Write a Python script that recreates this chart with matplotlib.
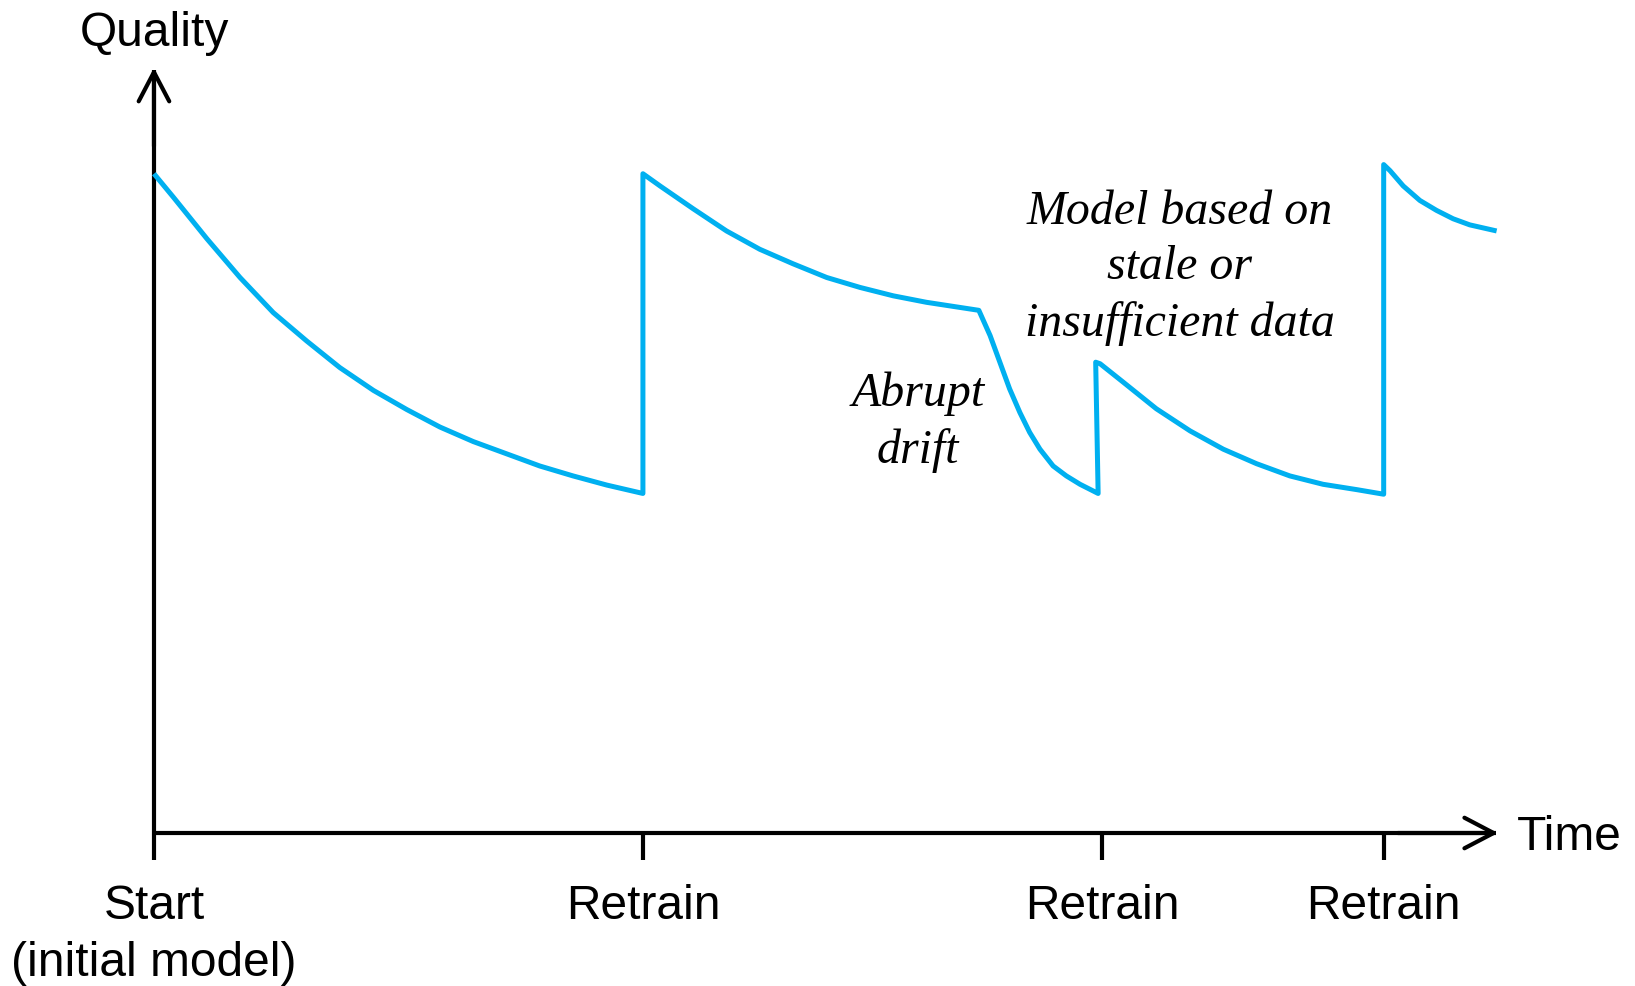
import matplotlib.pyplot as plt

# quality curve (time units: first retrain = 10)
seg1_t = [0, 0.4, 1.08, 1.76, 2.44, 3.12, 3.8, 4.49, 5.17, 5.85, 6.53,
          7.21, 7.89, 8.57, 9.26, 10]
seg1_q = [86.4, 83.3, 77.9, 72.8, 68.2, 64.5, 61.0, 58.0, 55.5, 53.2, 51.3,
          49.7, 48.1, 46.8, 45.6, 44.5]

seg2_t = [10, 10.35, 11.03, 11.71, 12.39, 13.07, 13.76, 14.44, 15.12, 15.8, 16.87]
seg2_q = [86.4, 84.8, 81.8, 78.9, 76.5, 74.6, 72.8, 71.5, 70.4, 69.55, 68.5]

drift_t = [17.1, 17.3, 17.5, 17.71, 17.91, 18.12, 18.39, 18.66, 18.94, 19.31]
drift_q = [65.2, 61.7, 58.2, 55.1, 52.5, 50.3, 48.1, 46.8, 45.7, 44.5]

seg3_t = [19.26, 19.35, 19.82, 20.5, 21.19, 21.87, 22.55, 23.23, 23.91, 24.6, 25.15]
seg3_q = [61.7, 61.5, 59.1, 55.6, 52.7, 50.3, 48.4, 46.8, 45.7, 45.0, 44.4]

seg4_t = [25.15, 25.28, 25.55, 25.89, 26.23, 26.57, 26.91, 27.46]
seg4_q = [87.6, 86.8, 84.8, 82.9, 81.6, 80.5, 79.7, 78.9]

tick_pos = [0, 10, 19.39, 25.15]
tick_labels = ['Start\n(initial model)', 'Retrain', 'Retrain', 'Retrain']

t_end = 27.44
q_top = 100

blue = '#00B0F0'
sans = 'Liberation Sans'
serif = 'Liberation Serif'

fig = plt.figure(figsize=(16.35, 9.87), dpi=100)
ax = fig.add_axes([0, 0, 1, 1])
ax.set_xlim(-3.149, 30.29)
ax.set_ylim(-20.05, 109.3)

# the curve, one line through all segments
t_all = seg1_t + seg2_t + drift_t + seg3_t + seg4_t
q_all = seg1_q + seg2_q + drift_q + seg3_q + seg4_q
ax.plot(t_all, q_all, color=blue, lw=3.6, solid_joinstyle='round',
        solid_capstyle='butt', zorder=3)

# axes as spines with arrows
for side in ['top', 'right']:
    ax.spines[side].set_visible(False)
ax.spines['left'].set_position(('data', 0))
ax.spines['bottom'].set_position(('data', 0))
ax.spines['left'].set_bounds(0, q_top)
ax.spines['bottom'].set_bounds(0, t_end)
for side in ['left', 'bottom']:
    ax.spines[side].set_linewidth(3)
    ax.spines[side].set_capstyle('butt')

arrow = dict(arrowstyle='->,head_length=1.05,head_width=0.55', lw=3,
             color='black', mutation_scale=20, shrinkA=0, shrinkB=0)
ax.annotate('', xy=(t_end + 0.05, 0), xytext=(t_end - 2, 0), arrowprops=arrow)
ax.annotate('', xy=(0, q_top + 0.3), xytext=(0, q_top - 10), arrowprops=arrow)

ax.set_yticks([])
ax.set_xticks(tick_pos)
ax.set_xticklabels(tick_labels, fontfamily=sans, fontsize=34.5, linespacing=1.34)
ax.tick_params(axis='x', direction='out', length=19.5, width=3, pad=16.5)

ax.text(0, 104.9, 'Quality', ha='center', va='center', fontfamily=sans, fontsize=34.5)
ax.text(27.87, -0.4, 'Time', ha='left', va='center', fontfamily=sans, fontsize=34.5)

ax.text(15.62, 53.95, 'Abrupt\ndrift', ha='center', va='center', style='italic',
        fontfamily=serif, fontsize=34.5, linespacing=1.33)
ax.text(20.98, 74.2, 'Model based on\nstale or\ninsufficient data', ha='center',
        va='center', style='italic', fontfamily=serif, fontsize=34.5, linespacing=1.34)

fig.savefig('out.png', dpi=100)
